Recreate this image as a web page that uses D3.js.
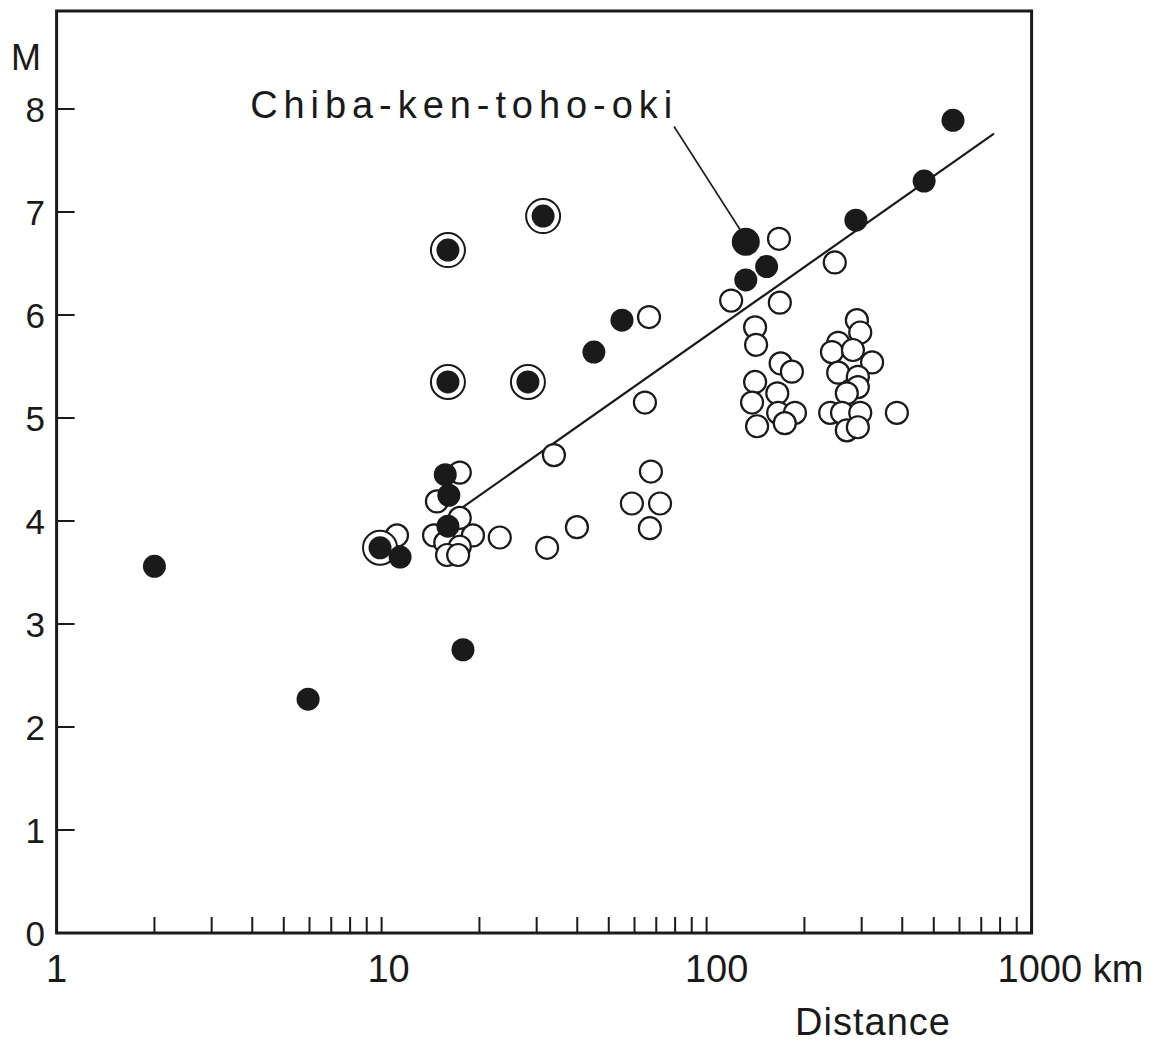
<!DOCTYPE html>
<html><head><meta charset="utf-8">
<script src="https://cdn.jsdelivr.net/npm/d3@7"></script>
<style>
body{margin:0;background:#fff}
svg{display:block}
text{font-family:"Liberation Sans",Arial,sans-serif;fill:#1a1a1a}
</style>
</head><body>
<svg id="c" width="1153" height="1042"></svg>
<script>
// ---- data (distance in km, magnitude M) ----
const openDist = [11.15,14.8,17.4,17.4,14.5,19.1,15.7,17.4,15.9,17.2,23.1,
  33.9,32.3,39.9,66.5,64.6,67.4,58.9,71.9,66.9,
  167,119,168,141,142,169,183,141,165,138,166,187,143,174,
  248,290,297,254,243,282,323,254,292,292,270,240,261,297,270,292,385];
const openMag = [3.86,4.19,4.47,4.03,3.86,3.86,3.79,3.75,3.67,3.67,3.84,
  4.64,3.74,3.94,5.98,5.15,4.48,4.17,4.17,3.93,
  6.74,6.14,6.12,5.88,5.71,5.53,5.45,5.35,5.24,5.15,5.05,5.05,4.92,4.95,
  6.51,5.95,5.83,5.73,5.64,5.66,5.54,5.44,5.40,5.30,5.24,5.05,5.05,5.05,4.88,4.91,5.05];

const filledDist = [2.0,5.94,11.4,17.8,16.0,15.7,16.1,45.0,54.9,132,153,288,467,573];
const filledMag  = [3.56,2.27,3.65,2.75,3.95,4.45,4.25,5.64,5.95,6.34,6.47,6.92,7.30,7.89];

const ringedDist = [9.89,16.0,16.0,31.4,28.2];
const ringedMag  = [3.74,6.63,5.35,6.96,5.35];

const chibaDist = [132];
const chibaMag  = [6.71];
const chibaLabel = "Chiba-ken-toho-oki";
const chibaLabelPos = [3.94, 7.91];
const chibaLeaderDist = [79.4, 126.7];
const chibaLeaderMag  = [7.83, 6.83];

const fitDist = [17.7, 766];
const fitMag  = [4.13, 7.76];

const yTicks = [0,1,2,3,4,5,6,7,8];
const xTickValues = [1,10,100,1000];
const xTickLabels = ["1","10","100","1000 km"];
const yTitle = "M";
const xTitle = "Distance";

// ---- drawing ----
const svg = d3.select("#c");
const ink = "#1a1a1a";
const x = d3.scaleLog().domain([1,1000]).range([56.6,1031.6]);
const y = d3.scaleLinear().domain([0,8]).range([933,109]);
const topY = 11;

svg.append("rect").attr("x",x(1)).attr("y",topY)
  .attr("width",x(1000)-x(1)).attr("height",y(0)-topY)
  .attr("fill","none").attr("stroke",ink).attr("stroke-width",3);

// x ticks (inward)
svg.append("g").selectAll("line").data(x.ticks()).join("line")
  .attr("x1",d=>x(d)).attr("x2",d=>x(d)).attr("y1",y(0)).attr("y2",y(0)-16)
  .attr("stroke",ink).attr("stroke-width",2);
// y ticks (inward)
svg.append("g").selectAll("line").data(yTicks).join("line")
  .attr("x1",x(1)).attr("x2",x(1)+18).attr("y1",d=>y(d)).attr("y2",d=>y(d))
  .attr("stroke",ink).attr("stroke-width",2);

// y labels
svg.append("g").selectAll("text").data(yTicks).join("text")
  .attr("x",45).attr("y",d=>y(d)).attr("dy","0.36em")
  .attr("text-anchor","end").attr("font-size",35).text(d=>d);
svg.append("text").attr("x",26).attr("y",70).attr("text-anchor","middle")
  .attr("font-size",36).text(yTitle);

// x labels
const xOff = [0,7,10,-34];
const xAnchor = ["middle","middle","middle","start"];
svg.append("g").selectAll("text").data(xTickValues).join("text")
  .attr("x",(d,i)=>x(d)+xOff[i]).attr("y",982)
  .attr("text-anchor",(d,i)=>xAnchor[i]).attr("font-size",38)
  .text((d,i)=>xTickLabels[i]);
svg.append("text").attr("x",795).attr("y",1035).attr("font-size",38)
  .attr("textLength",155).attr("lengthAdjust","spacing").text(xTitle);

// regression line
svg.append("line")
  .attr("x1",x(fitDist[0])).attr("y1",y(fitMag[0]))
  .attr("x2",x(fitDist[1])).attr("y2",y(fitMag[1]))
  .attr("stroke",ink).attr("stroke-width",2.2);

// open circles
svg.append("g").selectAll("circle").data(openDist).join("circle")
  .attr("cx",d=>x(d)).attr("cy",(d,i)=>y(openMag[i])).attr("r",11)
  .attr("fill","#fff").attr("stroke",ink).attr("stroke-width",2.2);

// ringed filled circles
const rg = svg.append("g");
rg.selectAll("circle.ring").data(ringedDist).join("circle").attr("class","ring")
  .attr("cx",d=>x(d)).attr("cy",(d,i)=>y(ringedMag[i])).attr("r",17)
  .attr("fill","#fff").attr("stroke",ink).attr("stroke-width",2);
rg.selectAll("circle.dot").data(ringedDist).join("circle").attr("class","dot")
  .attr("cx",d=>x(d)).attr("cy",(d,i)=>y(ringedMag[i])).attr("r",11.5)
  .attr("fill",ink);

// filled circles
svg.append("g").selectAll("circle").data(filledDist).join("circle")
  .attr("cx",d=>x(d)).attr("cy",(d,i)=>y(filledMag[i])).attr("r",11.5)
  .attr("fill",ink);

// Chiba event
svg.append("g").selectAll("circle").data(chibaDist).join("circle")
  .attr("cx",d=>x(d)).attr("cy",(d,i)=>y(chibaMag[i])).attr("r",14)
  .attr("fill",ink);
svg.append("line")
  .attr("x1",x(chibaLeaderDist[0])).attr("y1",y(chibaLeaderMag[0]))
  .attr("x2",x(chibaLeaderDist[1])).attr("y2",y(chibaLeaderMag[1]))
  .attr("stroke",ink).attr("stroke-width",1.6);
svg.append("text").attr("x",x(chibaLabelPos[0])).attr("y",y(chibaLabelPos[1]))
  .attr("font-size",38).attr("textLength",422).attr("lengthAdjust","spacing")
  .text(chibaLabel);
</script>
</body></html>
